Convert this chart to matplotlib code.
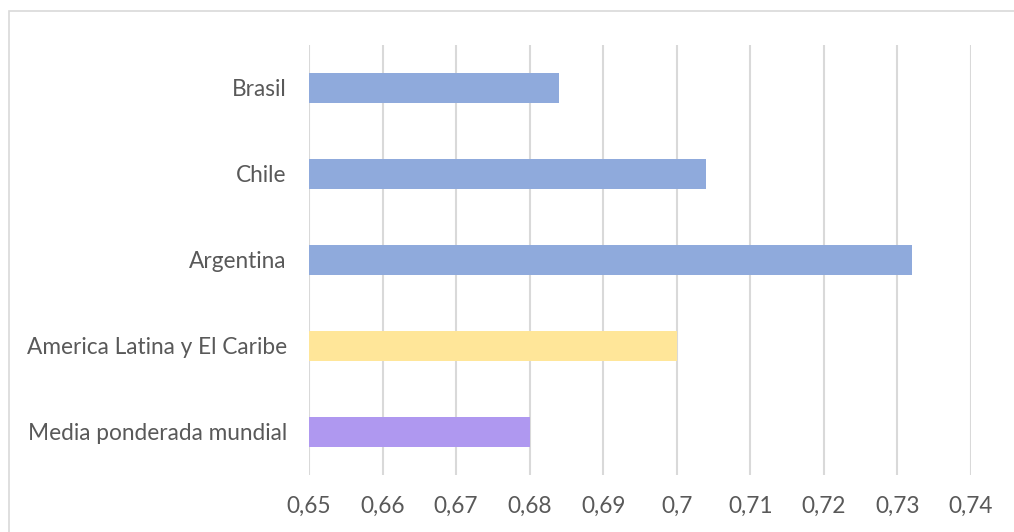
import matplotlib
matplotlib.use('Agg')
import matplotlib.pyplot as plt
from matplotlib.patches import Rectangle

categories = [
    'Media ponderada mundial',
    'America Latina y El Caribe',
    'Argentina',
    'Chile',
    'Brasil',
]
values = [0.680, 0.700, 0.732, 0.704, 0.684]
colors = ['#AF98F0', '#FFE699', '#8FAADC', '#8FAADC', '#8FAADC']
ticks = [0.65, 0.66, 0.67, 0.68, 0.69, 0.70, 0.71, 0.72, 0.73, 0.74]
tick_labels = ['0,65', '0,66', '0,67', '0,68', '0,69', '0,7', '0,71', '0,72', '0,73', '0,74']

plt.rcParams['font.family'] = ['Lato', 'DejaVu Sans']
text_color = '#595959'

fig = plt.figure(figsize=(10.14, 5.32), dpi=100)
ax = fig.add_axes([309 / 1014, 1 - 475 / 532, (971 - 309) / 1014, (475 - 45) / 532])

# outer chart frame
fig.patches.append(Rectangle((9 / 1014, -0.1), 1.2, (532 - 11) / 532 + 0.1,
                             transform=fig.transFigure, fill=False,
                             edgecolor='#D9D9D9', linewidth=1.2))

ypos = list(range(len(categories)))
ax.barh(ypos, [v - 0.65 for v in values], left=0.65, height=0.36,
        color=colors, zorder=3)

ax.set_xlim(0.65, 0.74)
ax.set_ylim(-0.5, len(categories) - 0.5)
ax.set_xticks(ticks)
ax.set_xticklabels(tick_labels)
ax.set_yticks(ypos)
ax.set_yticklabels(categories)
ax.tick_params(axis='both', length=0, labelsize=16.3, labelcolor=text_color)
ax.tick_params(axis='x', pad=15)
ax.tick_params(axis='y', pad=16)
ax.grid(axis='x', color='#D9D9D9', linewidth=1.5, zorder=0)
for s in ax.spines.values():
    s.set_visible(False)

fig.savefig('out.png', dpi=100)
